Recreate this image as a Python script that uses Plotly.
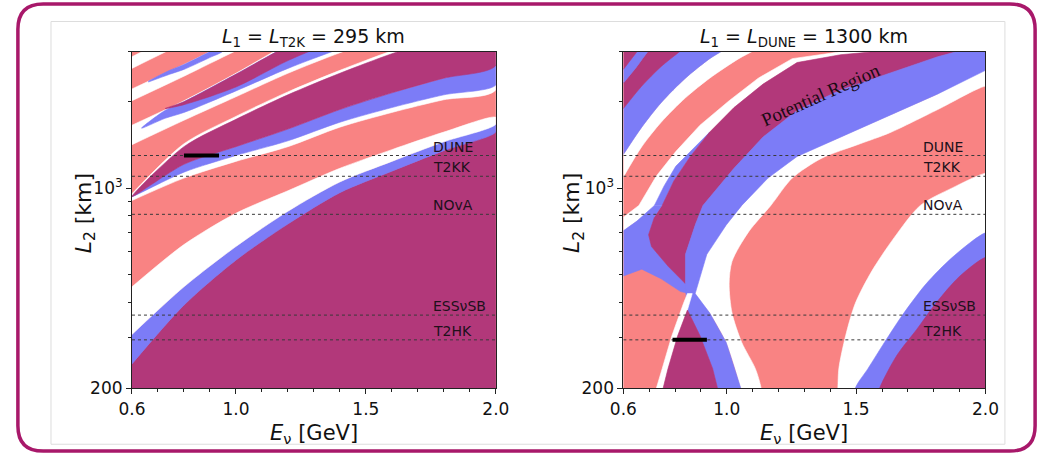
import numpy as np
import plotly.graph_objects as go

SALMON = "#F98383"
MAROON = "#B2387A"
BLUE = "#7C7CF7"
WHITE = "#FFFFFF"
FONT = "DejaVu Sans"

# ---------------- data: left panel (L1 = 295 km) ----------------
E_GRID = [0.6, 0.8, 1.0, 1.2, 1.4, 1.6, 1.8, 2.0]
L_FLOOR = [150, 150, 150, 150, 150, 150, 150, 150]
L_M = [243, 390, 560, 749, 964, 1146, 1352, 1570]
L_W1 = [308, 452, 625, 830, 1051, 1240, 1452, 1672]
L_S1 = [452, 635, 817, 979, 1173, 1363, 1570, 1767]
L_W2 = [905, 1084, 1240, 1396, 1633, 1838, 2036, 2203]
L_B2 = [934, 1137, 1300, 1463, 1699, 1912, 2118, 2292]
L_P2 = [934, 1211, 1396, 1608, 1882, 2152, 2422, 2682]
L_T2 = [934, 1396, 1739, 2118, 2519, 2948, 3371, 3823]
L_T2W = [956, 1429, 1781, 2169, 2579, 3018, 3451, 3915]
L_W4 = [1418, 1726, 2085, 2519, 2972, 3424, 3884, 4371]
L_W5 = [1659, 2020, 2519, 3190, 3823, 4547, 5323, 6231]

E_B3 = [0.637, 0.727, 0.8, 1.0, 1.2, 1.4, 1.6, 1.8, 2.0]
L_B3_LO = [1620, 1753, 1838, 2186, 2620, 3067, 3533, 4040, 4547]
L_B3_HI = [1620, 1867, 2004, 2499, 3139, 3763, 4475, 5239, 6132]
E_M3 = [0.727, 0.8, 1.0, 1.2, 1.4, 1.6, 1.8, 2.0]
L_M3_LO = [1896, 1957, 2256, 2790, 3318, 3884, 4371, 4920]
L_M3_HI = [1896, 2004, 2499, 3139, 3763, 4475, 5239, 6132]

E_W67 = [0.6, 0.8, 1.0, 1.2, 1.4]
L_W6 = [2020, 2460, 3018, 3647, 4371]
L_W7 = [2221, 2703, 3318, 4008, 4730]
E_STREAK = [0.663, 0.745, 0.8, 0.899, 0.951]
L_STREAK_LO = [2347, 2499, 2599, 2858, 3018]
L_STREAK_HI = [2365, 2579, 2703, 2995, 3164]
E_W89 = [0.6, 0.8, 1.0, 1.2]
L_W8 = [2620, 3215, 3884, 4655]
L_W9 = [2879, 3533, 4268, 5117]

# ---------------- data: right panel (L1 = 1300 km) ----------------
R_WS_E = [1.4255, 1.4293, 1.433, 1.4593, 1.4968, 1.5606, 1.6469, 1.7482, 1.872, 2.0, 2.05, 2.05]
R_WS_L = [166, 200, 234, 305, 396, 513, 671, 870, 1002, 1128, 1128, 150]
R_BW_E = [1.4855, 1.4968, 1.5456, 1.6094, 1.6845, 1.7707, 1.872, 2.0, 2.05, 2.05]
R_BW_L = [166, 200, 234, 289, 366, 463, 573, 698, 698, 150]
R_MB_E = [1.5644, 1.5906, 1.6582, 1.7332, 1.8083, 1.8983, 2.0, 2.05, 2.05]
R_MB_L = [166, 200, 261, 320, 396, 490, 573, 573, 150]

R_WMID_E = [1.0728, 1.054, 0.9977, 0.934, 0.8777, 0.9227, 0.9977, 1.0578, 1.1591, 1.2717,
            1.4405, 1.6281, 1.8158, 2.0, 2.05, 2.05, 2.0, 1.8158, 1.6281, 1.5156, 1.3655,
            1.2529, 1.1704, 1.0841, 1.0203, 1.009, 1.0203, 1.0578, 1.1103, 1.1328, 1.1403]
R_WMID_L = [166, 200, 289, 366, 428, 587, 743, 870, 1084, 1290, 1510, 1795, 2134, 2579,
            2579, 2274, 2274, 1882, 1558, 1429, 1270, 1084, 870, 703, 555, 463, 366, 289,
            234, 200, 166]

R_BX_E = [0.9715, 0.964, 0.9452, 0.8964, 0.8477, 0.8402, 0.8402, 0.8777, 0.9077, 1.0278,
          1.1403, 1.2717, 1.4405, 1.6281, 1.8158, 2.0, 2.05, 2.05, 2.0, 1.8158, 1.6281,
          1.4405, 1.2717, 1.1591, 1.0578, 0.9977, 0.9227, 0.8777, 0.934, 0.9977, 1.054, 1.0728]
R_BX_L = [166, 200, 234, 305, 375, 445, 587, 743, 870, 1173, 1510, 1867, 2203, 2519, 2879,
          3190, 3190, 2579, 2579, 2134, 1795, 1510, 1290, 1084, 870, 743, 587, 428, 366,
          289, 200, 166]

R_PR_E = [0.7501, 0.7951, 0.8589, 0.934, 1.0278, 1.1403, 1.2717, 1.4405, 1.6469, 1.8158,
          2.0, 2.0, 1.8158, 1.6281, 1.4405, 1.2717, 1.1403, 1.0278, 0.9077, 0.8777, 0.8402,
          0.8402, 0.7726, 0.7088, 0.6976, 0.7201]
R_PR_L = [870, 1059, 1290, 1570, 1912, 2310, 2747, 2925, 3042, 3190, 3318, 3190, 2879,
          2519, 2203, 1867, 1510, 1173, 870, 743, 587, 463, 534, 625, 687, 791]

R_TENT_E = [0.7426, 0.7538, 0.7726, 0.8101, 0.8477, 0.8964, 0.9452, 0.964, 0.979]
R_TENT_L = [166, 200, 234, 305, 375, 305, 234, 200, 166]
R_WLINE_E = [0.7238, 0.7276, 0.7501, 0.7876, 0.8326, 0.8477, 0.8664, 0.8477, 0.8101,
             0.7726, 0.7538, 0.7426]
R_WLINE_L = [166, 200, 234, 305, 396, 428, 428, 375, 305, 234, 200, 166]

R_BL_E = [0.6, 0.6525, 0.7201, 0.7501, 0.7201, 0.6976, 0.7088, 0.7726, 0.8402, 0.8552,
          0.8214, 0.7463, 0.6713, 0.6]
R_BL_L = [709, 767, 870, 870, 791, 687, 625, 534, 463, 428, 435, 482, 521, 493]

R_WT_E = [0.6, 0.66, 0.7276, 0.8026, 0.8964, 1.009, 1.1216, 1.2529, 1.4405, 1.6469, 1.8158,
          2.0, 2.0, 1.8158, 1.6469, 1.4405, 1.2717, 1.1403, 1.0278, 0.934, 0.8589, 0.7951,
          0.7501, 0.6525, 0.6]
R_WT_L = [791, 870, 1102, 1342, 1659, 2020, 2422, 2834, 2995, 3115, 3266, 3424, 3318, 3190,
          3042, 2925, 2747, 2310, 1912, 1570, 1290, 1059, 870, 767, 709]
R_BT_E = [0.7201, 0.7576, 0.8026, 0.8777, 0.934, 0.8589, 0.7951, 0.7501]
R_BT_L = [870, 1018, 1192, 1396, 1570, 1290, 1059, 870]

R_SLT_E = [0.6, 0.6713, 0.7463, 0.8402, 0.934, 1.0465, 1.1028, 1.1779]
R_SLT_L = [1093, 1396, 1699, 2068, 2422, 2834, 3018, 3318]
R_WB2_E = [0.6, 0.6713, 0.7463, 0.8402, 0.934, 0.9827, 1.0465]
R_WB2_L = [1310, 1633, 1989, 2422, 2834, 3018, 3318]
R_BQ_E = [0.6, 0.6713, 0.7463, 0.8214, 0.8777]
R_BQ_L = [1896, 2274, 2661, 3018, 3318]
R_MQT_E = [0.6, 0.6525, 0.6976, 0.7463]
R_MQT_L = [2328, 2661, 3018, 3318]
R_MQ2_E = [0.6, 0.6525, 0.6901]
R_MQ2_L = [2599, 2995, 3318]
R_TOP_E = [0.6, 0.75]
R_TOP_L = [4000, 4000]

# experiments
EXP_NAMES = ["DUNE", "T2KK", "NOvA", "ESSνSB", "T2HK"]
EXP_L = [1300, 1100, 810, 360, 295]
BAR_LEFT_E = [0.80, 0.935]
BAR_LEFT_L = [1300, 1300]
BAR_RIGHT_E = [0.79, 0.923]
BAR_RIGHT_L = [295, 295]

X_TICKS = [0.6, 1.0, 1.5, 2.0]
X_TICKTEXT = ["0.6", "1.0", "1.5", "2.0"]
X_MINOR = [0.7, 0.8, 0.9, 1.1, 1.2, 1.3, 1.4, 1.6, 1.7, 1.8, 1.9]
Y_TICKS = [200, 1000]
Y_TICKTEXT = ["200", "10<sup>3</sup>"]
Y_MINOR = [300, 400, 500, 600, 700, 800, 900, 2000, 3000]

fig = go.Figure()


def poly(E, L, color, xa, ya, smooth=False):
    line = dict(width=0.6, color=color)
    if smooth:
        line.update(shape="spline", smoothing=0.8)
    fig.add_trace(go.Scatter(x=list(E), y=list(L), fill="toself", fillcolor=color,
                             mode="lines", line=line,
                             hoverinfo="skip", showlegend=False, xaxis=xa, yaxis=ya))


def band(E_lo, L_lo, E_hi, L_hi, color, xa, ya, smooth=True):
    poly(list(E_lo) + list(E_hi)[::-1], list(L_lo) + list(L_hi)[::-1], color, xa, ya, smooth)


# left panel
A = ("x", "y")
band(E_GRID, L_FLOOR, E_GRID, L_M, MAROON, *A)
band(E_GRID, L_M, E_GRID, L_W1, BLUE, *A)
band(E_GRID, L_W1, E_GRID, L_S1, WHITE, *A)
band(E_GRID, L_W2, E_GRID, L_T2W, WHITE, *A)
band(E_GRID, L_B2, E_GRID, L_P2, BLUE, *A)
band(E_GRID, L_P2, E_GRID, L_T2, MAROON, *A)
band(E_GRID, L_W4, E_GRID, L_W5, WHITE, *A)
band(E_B3, L_B3_LO, E_B3, L_B3_HI, BLUE, *A)
band(E_M3, L_M3_LO, E_M3, L_M3_HI, MAROON, *A)
band(E_W67, L_W6, E_W67, L_W7, WHITE, *A)
band(E_STREAK, L_STREAK_LO, E_STREAK, L_STREAK_HI, BLUE, *A)
band(E_W89, L_W8, E_W89, L_W9, WHITE, *A)

# right panel
B = ("x2", "y2")
poly(R_WS_E, R_WS_L, WHITE, *B, smooth=True)
poly(R_BW_E, R_BW_L, BLUE, *B, smooth=True)
poly(R_MB_E, R_MB_L, MAROON, *B, smooth=True)
poly(R_WMID_E, R_WMID_L, WHITE, *B, smooth=True)
poly(R_WT_E, R_WT_L, WHITE, *B)
poly(R_BT_E, R_BT_L, BLUE, *B)
poly(R_BL_E, R_BL_L, BLUE, *B)
poly(R_PR_E, R_PR_L, MAROON, *B)
poly(R_BX_E, R_BX_L, BLUE, *B)
poly(R_WLINE_E, R_WLINE_L, WHITE, *B)
poly(R_TENT_E, R_TENT_L, MAROON, *B)
band(R_SLT_E, R_SLT_L, R_WB2_E, R_WB2_L, WHITE, *B)
band(R_WB2_E, R_WB2_L, R_BQ_E, R_BQ_L, BLUE, *B)
band(R_BQ_E, R_BQ_L, R_MQT_E, R_MQT_L, MAROON, *B)
band(R_MQT_E, R_MQT_L, R_MQ2_E, R_MQ2_L, BLUE, *B)
band(R_MQ2_E, R_MQ2_L, R_TOP_E, R_TOP_L, MAROON, *B, smooth=False)

# experiment lines, labels, bars
annotations = []
for xa, ya in (A, B):
    for name, L in zip(EXP_NAMES, EXP_L):
        fig.add_trace(go.Scatter(x=[0.6, 2.0], y=[L, L], mode="lines",
                                 line=dict(color="#3a3a3a", width=1, dash="dot"),
                                 hoverinfo="skip", showlegend=False, xaxis=xa, yaxis=ya))
        annotations.append(dict(x=1.752, y=np.log10(L), xref=xa, yref=ya, text=name,
                                showarrow=False, xanchor="left", yanchor="bottom", yshift=-1,
                                font=dict(family=FONT, size=14, color="#20101a")))
fig.add_trace(go.Scatter(x=BAR_LEFT_E, y=BAR_LEFT_L, mode="lines", line=dict(color="black", width=4),
                         hoverinfo="skip", showlegend=False, xaxis="x", yaxis="y"))
fig.add_trace(go.Scatter(x=BAR_RIGHT_E, y=BAR_RIGHT_L, mode="lines", line=dict(color="black", width=4),
                         hoverinfo="skip", showlegend=False, xaxis="x2", yaxis="y2"))

annotations.append(dict(x=1.3655, y=np.log10(2118), xref="x2", yref="y2", text="Potential Region",
                        showarrow=False, textangle=-24,
                        font=dict(family="Liberation Serif, serif", size=19, color="#1a0a14")))

W, H = 1053, 465


def px(xp):
    return xp / W


def py(yp):
    return 1 - yp / H


for cx, title in ((308, "<i>L</i><sub>1</sub> = <i>L</i><sub>T2K</sub> = 295 km"),
                  (812, "<i>L</i><sub>1</sub> = <i>L</i><sub>DUNE</sub> = 1300 km")):
    annotations.append(dict(x=px(cx), y=py(38), xref="paper", yref="paper", text=title,
                            showarrow=False, xanchor="center", yanchor="middle",
                            font=dict(family=FONT, size=19, color="#111")))
    annotations.append(dict(x=px(cx), y=py(428), xref="paper", yref="paper",
                            text="<i>E</i><sub>ν</sub> [GeV]", showarrow=False,
                            xanchor="center", yanchor="top",
                            font=dict(family=FONT, size=21, color="#111")))
for cx in (73, 575):
    annotations.append(dict(x=px(cx), y=py(218), xref="paper", yref="paper",
                            text="<i>L</i><sub>2</sub> [km]", showarrow=False, textangle=-90,
                            xanchor="center", yanchor="middle",
                            font=dict(family=FONT, size=22, color="#111")))

xcommon = dict(range=[0.6, 2.0], tickvals=X_TICKS, ticktext=X_TICKTEXT, ticks="outside",
               ticklen=5, tickcolor="#222", showline=True, mirror=True, linecolor="#222",
               linewidth=1, showgrid=False, zeroline=False,
               tickfont=dict(family=FONT, size=17, color="#111"),
               minor=dict(tickvals=X_MINOR, ticks="outside", ticklen=3, tickcolor="#222"))
ycommon = dict(type="log", range=[np.log10(200), np.log10(3000)], tickvals=Y_TICKS,
               ticktext=Y_TICKTEXT, ticks="outside", ticklen=5, tickcolor="#222",
               showline=True, mirror=True, linecolor="#222", linewidth=1, showgrid=False,
               zeroline=False, tickfont=dict(family=FONT, size=17, color="#111"),
               minor=dict(tickvals=Y_MINOR, ticks="outside", ticklen=3, tickcolor="#222"))

ydom = [1 - 396.7 / H, 1 - 52.7 / H]
fig.update_layout(
    width=W, height=H, margin=dict(l=0, r=0, t=0, b=0),
    paper_bgcolor="white", plot_bgcolor=SALMON,
    xaxis=dict(domain=[121.2 / W, 495 / W], anchor="y", **xcommon),
    yaxis=dict(domain=ydom, anchor="x", **ycommon),
    xaxis2=dict(domain=[626 / W, 998 / W], anchor="y2", **xcommon),
    yaxis2=dict(domain=ydom, anchor="x2", **ycommon),
    annotations=annotations,
)

# frame: rounded magenta border and faint inner panel border
x0, x1, y0, y1, r = 4, 1049, 4, 461, 26
path = (f"M {px(x0 + r)} {py(y0)} L {px(x1 - r)} {py(y0)} Q {px(x1)} {py(y0)} {px(x1)} {py(y0 + r)} "
        f"L {px(x1)} {py(y1 - r)} Q {px(x1)} {py(y1)} {px(x1 - r)} {py(y1)} "
        f"L {px(x0 + r)} {py(y1)} Q {px(x0)} {py(y1)} {px(x0)} {py(y1 - r)} "
        f"L {px(x0)} {py(y0 + r)} Q {px(x0)} {py(y0)} {px(x0 + r)} {py(y0)} Z")
fig.add_shape(type="path", path=path, xref="paper", yref="paper",
              line=dict(color="#A8186A", width=3.5), layer="above")
fig.add_shape(type="rect", x0=px(38), x1=px(1018), y0=py(454), y1=py(22), xref="paper",
              yref="paper", line=dict(color="#dddddd", width=1), layer="below")

PAGE_JS = ("document.documentElement.style.margin='0';document.documentElement.style.overflow='hidden';"
           "document.body.style.margin='0';document.body.style.overflow='hidden';")
fig.write_html("out.html", config={"displayModeBar": False}, post_script=PAGE_JS)
